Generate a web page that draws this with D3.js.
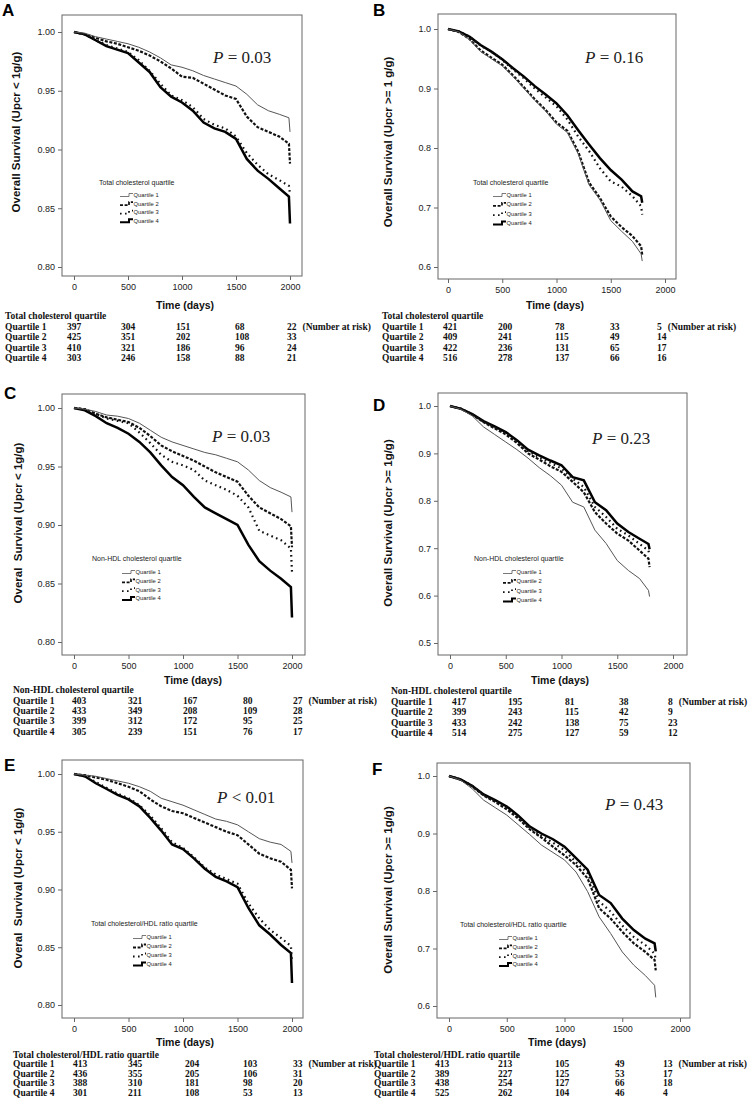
<!DOCTYPE html>
<html><head><meta charset="utf-8">
<script src="https://cdn.jsdelivr.net/npm/d3@7"></script>
<style>body{margin:0;background:#fff}</style></head>
<body>
<svg id="c" width="748" height="1106"></svg>
<script>
// ---------- DATA ----------
const quartiles = ["Quartile 1","Quartile 2","Quartile 3","Quartile 4"];
const xTicks = [0,500,1000,1500,2000];
const yTicksLow = [0.80,0.85,0.90,0.95,1.00];
const yTicksHigh = [0.6,0.7,0.8,0.9,1.0];
const yTicksD = [0.5,0.6,0.7,0.8,0.9,1.0];
const yDomLow = [0.80,1.00];
const yDomHigh = [0.6,1.0];
const yDomD = [0.5,1.0];

// time grids (days)
const timeLow  = [0,100,200,300,400,500,600,700,800,900,1000,1100,1200,1300,1400,1500,1600,1700,1800,1900,1990,2000];
const timeHigh = [0,100,200,300,400,500,600,700,800,900,1000,1100,1200,1300,1400,1500,1600,1700,1780,1790];

// Panel A  (Upcr < 1 g/g, total cholesterol)
const survA_Q1 = [1.000,0.999,0.996,0.994,0.992,0.990,0.987,0.983,0.978,0.972,0.970,0.967,0.963,0.960,0.957,0.954,0.947,0.938,0.933,0.930,0.927,0.915];
const survA_Q2 = [1.000,0.998,0.995,0.992,0.990,0.987,0.984,0.980,0.975,0.969,0.962,0.961,0.956,0.951,0.946,0.943,0.928,0.919,0.915,0.911,0.905,0.888];
const survA_Q3 = [1.000,0.998,0.993,0.989,0.986,0.983,0.976,0.967,0.956,0.946,0.942,0.936,0.926,0.921,0.918,0.911,0.897,0.887,0.879,0.874,0.869,0.862];
const survA_Q4 = [1.000,0.998,0.993,0.988,0.985,0.982,0.974,0.966,0.953,0.945,0.940,0.933,0.923,0.918,0.915,0.909,0.892,0.882,0.875,0.867,0.860,0.837];
// Panel B  (Upcr >= 1 g/g, total cholesterol)
const survB_Q1 = [1.000,0.995,0.982,0.962,0.950,0.938,0.920,0.900,0.880,0.862,0.840,0.826,0.790,0.738,0.713,0.678,0.660,0.643,0.622,0.610];
const survB_Q2 = [1.000,0.995,0.983,0.964,0.952,0.940,0.922,0.902,0.882,0.864,0.843,0.829,0.794,0.742,0.716,0.685,0.667,0.652,0.635,0.620];
const survB_Q3 = [1.000,0.996,0.987,0.972,0.962,0.948,0.932,0.917,0.900,0.885,0.870,0.848,0.819,0.795,0.766,0.744,0.735,0.719,0.702,0.688];
const survB_Q4 = [1.000,0.996,0.987,0.973,0.962,0.949,0.934,0.920,0.904,0.890,0.875,0.855,0.830,0.806,0.783,0.763,0.747,0.727,0.719,0.708];
// Panel C  (Upcr < 1 g/g, non-HDL)
const survC_Q1 = [1.000,0.999,0.997,0.994,0.993,0.991,0.987,0.981,0.975,0.971,0.968,0.965,0.962,0.960,0.957,0.954,0.947,0.938,0.932,0.928,0.924,0.911];
const survC_Q2 = [1.000,0.999,0.995,0.992,0.990,0.988,0.983,0.976,0.968,0.963,0.959,0.955,0.950,0.945,0.941,0.937,0.925,0.915,0.910,0.905,0.899,0.881];
const survC_Q3 = [1.000,0.999,0.995,0.991,0.989,0.987,0.979,0.970,0.960,0.954,0.951,0.947,0.938,0.934,0.930,0.925,0.915,0.895,0.891,0.887,0.880,0.860];
const survC_Q4 = [1.000,0.998,0.993,0.987,0.983,0.978,0.971,0.962,0.951,0.941,0.934,0.924,0.915,0.910,0.905,0.900,0.883,0.869,0.861,0.854,0.847,0.821];
// Panel D  (Upcr >= 1 g/g, non-HDL)
const survD_Q1 = [1.000,0.993,0.979,0.956,0.940,0.924,0.908,0.890,0.870,0.853,0.833,0.797,0.787,0.738,0.710,0.674,0.653,0.636,0.611,0.598];
const survD_Q2 = [1.000,0.994,0.982,0.966,0.953,0.940,0.922,0.900,0.887,0.873,0.861,0.840,0.818,0.776,0.752,0.731,0.716,0.695,0.678,0.660];
const survD_Q3 = [1.000,0.994,0.982,0.967,0.955,0.943,0.925,0.905,0.892,0.880,0.868,0.847,0.829,0.787,0.766,0.741,0.727,0.709,0.695,0.685];
const survD_Q4 = [1.000,0.994,0.983,0.968,0.957,0.945,0.928,0.908,0.896,0.885,0.875,0.850,0.843,0.797,0.780,0.752,0.734,0.720,0.709,0.698];
// Panel E  (Upcr < 1 g/g, TC/HDL ratio)
const survE_Q1 = [1.000,0.999,0.998,0.996,0.994,0.992,0.989,0.985,0.979,0.976,0.973,0.969,0.965,0.961,0.959,0.956,0.950,0.944,0.941,0.939,0.933,0.923];
const survE_Q2 = [1.000,0.999,0.997,0.995,0.992,0.989,0.985,0.978,0.972,0.968,0.966,0.962,0.958,0.954,0.950,0.947,0.939,0.931,0.927,0.924,0.917,0.901];
const survE_Q3 = [1.000,0.998,0.993,0.988,0.983,0.979,0.973,0.964,0.953,0.941,0.936,0.928,0.919,0.913,0.909,0.905,0.888,0.875,0.865,0.858,0.851,0.838];
const survE_Q4 = [1.000,0.998,0.992,0.987,0.982,0.978,0.972,0.962,0.951,0.939,0.935,0.927,0.918,0.911,0.907,0.902,0.884,0.869,0.861,0.852,0.845,0.819];
// Panel F  (Upcr >= 1 g/g, TC/HDL ratio)
const survF_Q1 = [1.000,0.993,0.978,0.958,0.945,0.932,0.915,0.898,0.880,0.867,0.854,0.833,0.799,0.755,0.726,0.694,0.671,0.653,0.636,0.615];
const survF_Q2 = [1.000,0.994,0.982,0.966,0.955,0.942,0.926,0.907,0.893,0.877,0.862,0.845,0.822,0.770,0.752,0.729,0.709,0.694,0.680,0.662];
const survF_Q3 = [1.000,0.994,0.983,0.967,0.957,0.945,0.929,0.910,0.896,0.884,0.871,0.850,0.831,0.782,0.764,0.740,0.720,0.706,0.691,0.680];
const survF_Q4 = [1.000,0.994,0.983,0.968,0.958,0.947,0.931,0.912,0.900,0.890,0.877,0.857,0.837,0.793,0.779,0.752,0.732,0.717,0.709,0.695];

// Number at risk
const riskA = [[397,304,151,68,22],[425,351,202,108,33],[410,321,186,96,24],[303,246,158,88,21]];
const riskB = [[421,200,78,33,5],[409,241,115,49,14],[422,236,131,65,17],[516,278,137,66,16]];
const riskC = [[403,321,167,80,27],[433,349,208,109,28],[399,312,172,95,25],[305,239,151,76,17]];
const riskD = [[417,195,81,38,8],[399,243,115,42,9],[433,242,138,75,23],[514,275,127,59,12]];
const riskE = [[413,345,204,103,33],[436,355,205,106,31],[388,310,181,98,20],[301,211,108,53,13]];
const riskF = [[413,213,105,49,13],[389,227,125,53,17],[438,254,127,66,18],[525,262,104,46,4]];

const groupNames = ["Total cholesterol quartile","Non-HDL cholesterol quartile","Total cholesterol/HDL ratio quartile"];
const yTitles = ["Overall Survival (Upcr < 1g/g)","Overall Survival (Upcr >= 1 g/g)","Overal  Survival (Upcr < 1g/g)",
                 "Overall Survival (Upcr >= 1g/g)","Overal  Survival (Upcr < 1g/g)","Overall Survival (Upcr >= 1g/g)"];
const pValues = ["= 0.03","= 0.16","= 0.03","= 0.23","< 0.01","= 0.43"];
const panelLetters = ["A","B","C","D","E","F"];
const timeTitle = "Time (days)";
const riskNote = "(Number at risk)";

// ---------- LAYOUT (positions only) ----------
const layouts = [
 {letter:[2,16],  box:[62,15,302,276],  x:[74,290],  y:[267,32],   yt:[16,132],  p:[213,63],
  leg:{tx:99,ty:185,sx:120,y0:195,dy:8.6}, time:[185,309], tab:{lx:5,ty:316,y0:326.4,dy:10.4,cols:[67,121,176,235,287]}},
 {letter:[373,16],box:[438,14,676,279], x:[448,665], y:[267,29],   yt:[388,142], p:[585,63],
  leg:{tx:473,ty:185,sx:493,y0:195,dy:9.3}, time:[555,309], tab:{lx:382,ty:316,y0:326.4,dy:10.4,cols:[443,498,555,610,657]}},
 {letter:[4,399], box:[62,394,305,655], x:[74,292],  y:[642,408],  yt:[18,523],  p:[212,442],
  leg:{tx:92,ty:561,sx:122,y0:572,dy:8.8}, time:[193,684], tab:{lx:13,ty:690,y0:700.3,dy:10.3,cols:[72,128,183,243,293]}},
 {letter:[373,411],box:[438,393,687,655],x:[450,673],y:[643,406],  yt:[388,523], p:[592,444],
  leg:{tx:474,ty:561,sx:503,y0:572,dy:9.3}, time:[560,684], tab:{lx:391,ty:691,y0:701.8,dy:10.3,cols:[452,508,565,619,668]}},
 {letter:[4,771], box:[62,760,303,1018],x:[74,292],  y:[1005,774], yt:[18,888],  p:[217,803],
  leg:{tx:91,ty:926,sx:133,y0:937,dy:9}, time:[185,1046], tab:{lx:13,ty:1055,y0:1063.4,dy:9.8,cols:[73,128,185,243,293]}},
 {letter:[372,775],box:[437,763,690,1018],x:[449,680],y:[1006,776],yt:[388,890], p:[605,810],
  leg:{tx:460,ty:927,sx:499,y0:938,dy:8.8}, time:[557,1046], tab:{lx:374,ty:1055,y0:1063.4,dy:9.8,cols:[435,498,555,615,663]}}
];

const panels = [
 {surv:[survA_Q1,survA_Q2,survA_Q3,survA_Q4], t:timeLow,  ydom:yDomLow,  yticks:yTicksLow,  fmt:".2f", group:groupNames[0], risk:riskA},
 {surv:[survB_Q1,survB_Q2,survB_Q3,survB_Q4], t:timeHigh, ydom:yDomHigh, yticks:yTicksHigh, fmt:".1f", group:groupNames[0], risk:riskB},
 {surv:[survC_Q1,survC_Q2,survC_Q3,survC_Q4], t:timeLow,  ydom:yDomLow,  yticks:yTicksLow,  fmt:".2f", group:groupNames[1], risk:riskC},
 {surv:[survD_Q1,survD_Q2,survD_Q3,survD_Q4], t:timeHigh, ydom:yDomD,    yticks:yTicksD,    fmt:".1f", group:groupNames[1], risk:riskD},
 {surv:[survE_Q1,survE_Q2,survE_Q3,survE_Q4], t:timeLow,  ydom:yDomLow,  yticks:yTicksLow,  fmt:".2f", group:groupNames[2], risk:riskE},
 {surv:[survF_Q1,survF_Q2,survF_Q3,survF_Q4], t:timeHigh, ydom:yDomHigh, yticks:yTicksHigh, fmt:".1f", group:groupNames[2], risk:riskF}
];

const styles = [
 {stroke:"#555", w:1,   dash:null},
 {stroke:"#111", w:2.2, dash:"3,1.6"},
 {stroke:"#111", w:2.2, dash:"1.6,3.4"},
 {stroke:"#000", w:2.5, dash:null}
];
const SANS = "'Liberation Sans', Arial, Helvetica, sans-serif";
const SERIF = "'Liberation Serif', 'Times New Roman', serif";

// ---------- DRAW ----------
const svg = d3.select("#c");
panels.forEach((P, k) => {
  const L = layouts[k];
  const g = svg.append("g");
  const x = d3.scaleLinear().domain([0,2000]).range(L.x);
  const y = d3.scaleLinear().domain(P.ydom).range(L.y);

  // box
  g.append("rect").attr("x",L.box[0]).attr("y",L.box[1])
    .attr("width",L.box[2]-L.box[0]).attr("height",L.box[3]-L.box[1])
    .attr("fill","none").attr("stroke","#666").attr("stroke-width",1);

  // axes
  const xa = g.append("g").attr("transform",`translate(0,${L.box[3]})`)
    .call(d3.axisBottom(x).tickValues(xTicks).tickSize(4).tickPadding(4).tickFormat(d3.format("d")));
  const ya = g.append("g").attr("transform",`translate(${L.box[0]},0)`)
    .call(d3.axisLeft(y).tickValues(P.yticks).tickSize(4).tickPadding(3).tickFormat(d3.format(P.fmt)));
  [xa,ya].forEach(a=>{
    a.select(".domain").remove();
    a.selectAll("line").attr("stroke","#666");
    a.selectAll("text").attr("font-family",SANS).attr("font-size",9).attr("fill","#222");
  });

  // curves (Q4 first, Q1 last)
  const line = d3.line().x((d,i)=>x(P.t[i])).y(d=>y(d));
  for (let q=3; q>=0; q--) {
    const s = styles[q];
    g.append("path").attr("d", line(P.surv[q])).attr("fill","none")
      .attr("stroke",s.stroke).attr("stroke-width",s.w)
      .attr("stroke-dasharray",s.dash).attr("stroke-linejoin","miter");
  }

  // panel letter
  g.append("text").attr("x",L.letter[0]).attr("y",L.letter[1]).text(panelLetters[k])
    .attr("font-family",SANS).attr("font-weight","bold").attr("font-size",17).attr("fill","#000");

  // y title
  g.append("text").attr("transform",`translate(${L.yt[0]},${L.yt[1]}) rotate(-90)`)
    .attr("text-anchor","middle").attr("dy","0.35em").style("white-space","pre")
    .attr("font-family",SANS).attr("font-weight","bold").attr("font-size",11.5).attr("fill","#111")
    .text(yTitles[k]);

  // P value
  const pt = g.append("text").attr("x",L.p[0]).attr("y",L.p[1])
    .attr("font-family",SERIF).attr("font-size",17).attr("fill","#222");
  pt.append("tspan").attr("font-style","italic").text("P");
  pt.append("tspan").text(" " + pValues[k]);

  // legend
  const lg = L.leg;
  g.append("text").attr("x",lg.tx).attr("y",lg.ty).text(P.group)
    .attr("font-family",SANS).attr("font-size",7).attr("fill","#222");
  quartiles.forEach((qn,q)=>{
    const yc = lg.y0 + q*lg.dy;
    const s = styles[q];
    g.append("path").attr("d",`M${lg.sx},${yc+1.5}H${lg.sx+9}V${yc-1.5}H${lg.sx+13}`)
      .attr("fill","none").attr("stroke",s.stroke).attr("stroke-width",s.w*0.8)
      .attr("stroke-dasharray",s.dash);
    g.append("text").attr("x",lg.sx+13.5).attr("y",yc+2).text(qn)
      .attr("font-family",SANS).attr("font-size",5.8).attr("fill","#222");
  });

  // time title
  g.append("text").attr("x",L.time[0]).attr("y",L.time[1]).attr("text-anchor","middle")
    .attr("font-family",SANS).attr("font-weight","bold").attr("font-size",10.5).attr("fill","#111")
    .text(timeTitle);

  // risk table
  const tb = L.tab;
  const tt = (xx,yy,str)=>g.append("text").attr("x",xx).attr("y",yy).text(str)
    .attr("font-family",SERIF).attr("font-weight","bold").attr("font-size",9.5).attr("fill","#111");
  tt(tb.lx, tb.ty+3.3, P.group);
  P.risk.forEach((row,q)=>{
    const yy = tb.y0 + q*tb.dy + 3.3;
    tt(tb.lx, yy, quartiles[q]);
    row.forEach((v,c)=>{
      const t = tt(tb.cols[c], yy, String(v));
      if (q===0 && c===row.length-1) t.append("tspan").attr("dx",6).text(riskNote);
    });
  });
});
</script>
</body></html>
